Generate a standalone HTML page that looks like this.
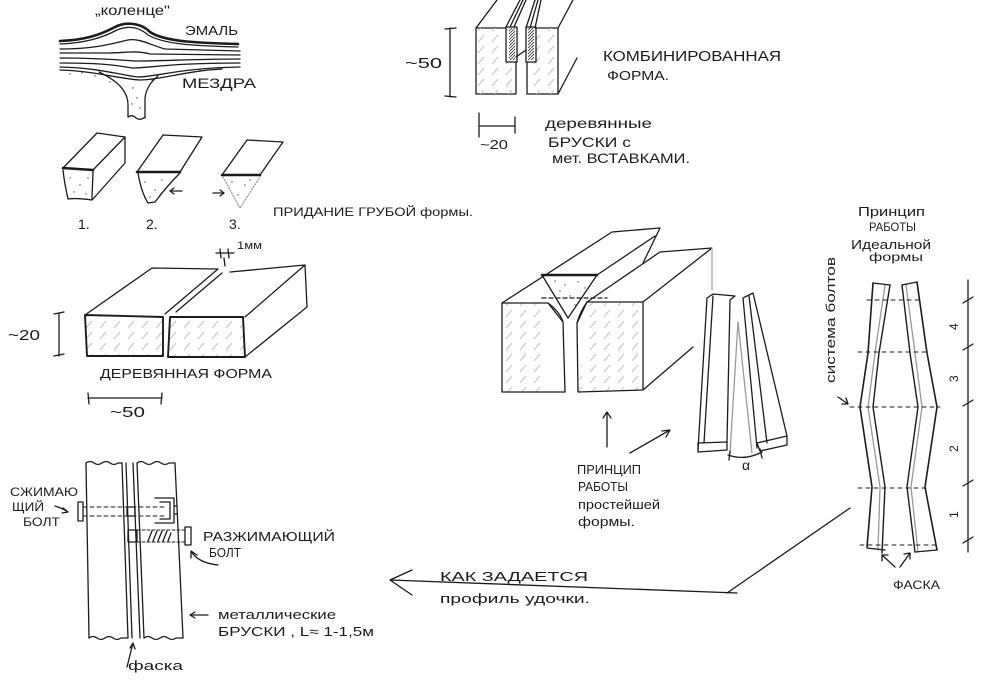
<!DOCTYPE html>
<html><head><meta charset="utf-8">
<style>
html,body{margin:0;padding:0;background:#fff;}
svg{display:block;}
text{font-family:"Liberation Sans","DejaVu Sans",sans-serif;fill:#1c1c1c;}
</style></head>
<body>
<svg width="990" height="685" viewBox="0 0 990 685" xmlns="http://www.w3.org/2000/svg">
<defs>
<pattern id="h" width="14" height="11" patternUnits="userSpaceOnUse">
<line x1="2" y1="9" x2="8" y2="2" stroke="#c4c4c4" stroke-width="1"/>
</pattern>
<pattern id="hd" width="3" height="3" patternUnits="userSpaceOnUse">
<line x1="0" y1="3" x2="3" y2="0" stroke="#333" stroke-width="0.9"/>
</pattern>
</defs>
<rect width="990" height="685" fill="#fff"/>
<g fill="none" stroke="#1c1c1c" stroke-width="1.3" stroke-linecap="round" stroke-linejoin="round">

<!-- ENAMEL / MEZDRA -->
<path d="M60,41 C85,40 100,35 115,27 C125,22 140,22 150,32 C165,42 200,43 238,44" stroke-width="2.6"/>
<path d="M60,44 C85,43 102,38 117,30 C127,26 138,26 148,35 C165,45 200,46 238,47"/>
<path d="M60,49 C95,49 110,44 128,40 C140,38 150,45 165,49 L240,51"/>
<path d="M60,53 L108,53 C124,53 135,50 150,54 L240,55"/>
<path d="M60,58 C100,58 120,60 135,61 C160,61 200,59 240,59"/>
<path d="M60,63 C100,63 115,65 132,68 C150,68 170,63 240,63"/>
<path d="M60,67 C100,68 120,75 138,77 C155,77 180,68 240,67"/>
<path d="M60,70 C95,71 120,79 140,80 C160,80 185,71 222,69"/>
<path d="M99,72 C116,80 128,90 128,105 L128,117"/>
<path d="M158,76 C149,83 145,92 145,100 L145,118"/>
<path d="M128,117 Q132,114 136,118 Q140,121 145,117"/>
<g fill="#444" stroke="none">
<circle cx="70" cy="74" r="0.7"/><circle cx="82" cy="73" r="0.7"/><circle cx="95" cy="76" r="0.7"/><circle cx="110" cy="82" r="0.7"/><circle cx="133" cy="88" r="0.7"/><circle cx="137" cy="98" r="0.7"/><circle cx="140" cy="108" r="0.7"/><circle cx="152" cy="80" r="0.7"/><circle cx="175" cy="72" r="0.7"/><circle cx="200" cy="70" r="0.7"/><circle cx="132" cy="104" r="0.7"/>
</g>

<!-- PRISMS -->
<path d="M63,168 L93,170 L125,137 L97,133 Z"/>
<path d="M63,168 L93,170" stroke-width="2.6"/>
<path d="M63,170 C64,180 66,190 68,199 C75,198 85,199 92,200 C92,190 93,180 93,170"/>
<path d="M125,137 L125,163 L93,199"/>
<path d="M137,172 L180,172 L202,137 L163,135 Z"/>
<path d="M137,172 L180,172" stroke-width="2.6"/>
<path d="M138,173 C140,185 143,195 148,203 L155,202 C164,190 172,181 180,173"/>
<path d="M182,191 L170,191 M174,188 L170,191 L174,194"/>
<path d="M222,175 L260,175 L283,142 L247,140 Z"/>
<path d="M222,175 L260,175" stroke-width="2.6"/>
<path d="M223,177 L240,208 L260,177" stroke="#999" stroke-dasharray="1 2"/>
<path d="M213,193 L224,193 M220,190 L224,193 L220,196"/>
<g fill="#555" stroke="none">
<circle cx="70" cy="178" r="0.7"/><circle cx="80" cy="185" r="0.7"/><circle cx="88" cy="178" r="0.7"/><circle cx="74" cy="192" r="0.7"/><circle cx="86" cy="194" r="0.7"/>
<circle cx="145" cy="182" r="0.7"/><circle cx="155" cy="190" r="0.7"/><circle cx="162" cy="180" r="0.7"/><circle cx="150" cy="197" r="0.7"/>
<circle cx="232" cy="182" r="0.7"/><circle cx="245" cy="185" r="0.7"/><circle cx="238" cy="195" r="0.7"/><circle cx="250" cy="180" r="0.7"/>
</g>

<!-- WOODEN FORM -->
<path d="M85,315 L163,317 L163,356 L87,356 Z" fill="url(#h)" stroke-width="1.9"/>
<path d="M170,317 L243,317 L245,357 L168,357 Z" fill="url(#h)" stroke-width="1.9"/>
<path d="M85,315 L152,268 L218,269 L165,314"/>
<path d="M222,273 L176,312"/>
<path d="M230,272 L305,265 L245,317"/>
<path d="M305,265 L307,307 L245,357"/>
<path d="M216,253 L234,253 M220,249 L221,258 M228,249 L229,258 M224,258 L225,266"/>
<path d="M59,313 L59,356 M54,314 L64,312 M54,356 L64,354"/>
<path d="M88,398 L162,398 M88,393 L89,404 M162,393 L161,404"/>

<!-- RAIL FORM -->
<path d="M86,463 Q90,460 94,463 Q98,466 102,463 Q106,460 110,463 Q114,466 118,463 L122,463"/>
<path d="M137,463 Q141,460 145,463 Q149,466 153,463 Q157,460 161,463 Q165,466 169,463 L175,463"/>
<path d="M89,638 Q93,635 97,638 Q101,641 105,638 Q109,635 113,638 Q117,641 121,638 L128,638"/>
<path d="M144,638 Q148,635 152,638 Q156,641 160,638 Q164,635 168,638 Q172,641 176,638 L183,638"/>
<path d="M86,463 L89,638 M122,463 L128,638 M126,463 L132,638 M133,463 L140,638 M137,463 L144,638 M175,463 L183,638"/>
<rect x="78" y="502" width="5" height="19"/>
<path d="M83,507 L165,507 M83,516 L165,516" stroke-dasharray="4 3" stroke-width="0.9"/>
<rect x="127" y="507" width="8" height="9"/>
<path d="M155,498 L174,498 L174,523 L155,523 M160,502 L170,502 L170,519 L160,519 M174,506 L177,506 M174,514 L177,514"/>
<rect x="185" y="527" width="6" height="18"/>
<path d="M137,530 L185,530 M137,542 L185,542" stroke-dasharray="3 2" stroke-width="0.9"/>
<path d="M148,541 L152,531 M153,541 L157,531 M158,541 L162,531 M163,541 L167,531 M168,541 L171,533"/>
<rect x="128" y="530" width="9" height="12"/>
<path d="M55,506 Q62,508 68,512 M63,508 L68,512 L62,513"/>
<path d="M218,565 Q198,563 191,551 M191,551 L191,558 M191,551 L197,555"/>
<path d="M208,615 L190,615 M195,612 L190,615 L195,618"/>
<path d="M127,667 L133,643 M130,648 L133,643 L135,649"/>

<!-- COMBINED FORM -->
<path d="M476,28 L476,94 L516,94 L516,28 L476,28" />
<path d="M527,28 L527,94 L558,94 L558,28 L527,28"/>
<rect x="476" y="28" width="40" height="66" fill="url(#h)" stroke="none"/>
<rect x="527" y="28" width="31" height="66" fill="url(#h)" stroke="none"/>
<rect x="506" y="27" width="11" height="35" fill="#fff"/>
<rect x="509" y="28" width="6" height="32" fill="url(#hd)" stroke="none"/>
<rect x="526" y="27" width="10" height="35" fill="#fff"/>
<rect x="528" y="28" width="6" height="32" fill="url(#hd)" stroke="none"/>
<path d="M516,57 L526,50"/>
<path d="M476,28 L497,0 M506,27 L520,0 M510,27 L523,0 M514,27 L526,0 M526,28 L535,0 M530,28 L538,0 M535,28 L541,0 M558,28 L573,0"/>
<path d="M558,94 L577,58"/>
<path d="M450,28 L450,97 M445,29 L456,28 M445,96 L456,97"/>
<path d="M479,126 L515,126 M479,113 L479,137 M515,117 L515,133"/>

<!-- SIMPLE FORM -->
<path d="M502,303 L548,303 L548,392 L502,392 Z" fill="url(#h)" stroke="none"/>
<path d="M587,303 L643,303 L643,390 L578,392 Z" fill="url(#h)" stroke="none"/>
<path d="M502,303 L548,303 Q560,312 563,322 L565,392 L502,392 Z"/>
<path d="M587,302 Q580,312 577,323 L578,392 L643,390 L643,302 L587,302"/>
<path d="M542,275 L597,275 L568,318 Z" fill="#fff"/>
<path d="M542,275 L597,275" stroke-width="2.6"/>
<path d="M548,303 L563,322 M587,302 L577,323" />
<path d="M542,298 L607,298" stroke-dasharray="4 3"/>
<path d="M502,303 L612,232 L660,228 L643,263"/>
<path d="M597,275 L655,236"/>
<path d="M587,302 L660,252 L712,248 L643,302"/>
<path d="M712,248 L712,290" stroke="#aaa"/>
<path d="M693,347 L643,390"/>
<g fill="#555" stroke="none">
<circle cx="555" cy="281" r="0.7"/><circle cx="565" cy="285" r="0.7"/><circle cx="578" cy="282" r="0.7"/><circle cx="585" cy="288" r="0.7"/><circle cx="570" cy="296" r="0.7"/><circle cx="575" cy="305" r="0.7"/><circle cx="560" cy="291" r="0.7"/>
</g>

<!-- BARS alpha -->
<path d="M707,298 L698,450 M713,296 L704,443 M730,300 L727,442 M707,298 L713,294 L735,296 L730,300"/>
<path d="M698,443 L727,442 L727,450 L698,452 Z"/>
<path d="M743,298 L757,448 M749,296 L767,443 M753,293 L787,436 M743,298 L753,293"/>
<path d="M757,443 L787,436 L787,445 L760,451 Z"/>
<path d="M738,322 L730,453 M738,322 L752,453" stroke="#999"/>
<path d="M728,455 Q745,461 762,452 M730,451 L729,460 M760,449 L762,458"/>
<path d="M607,447 L607,412 M603,418 L607,412 L611,418"/>
<path d="M630,453 L670,430 M662,431 L670,430 L666,437"/>

<!-- BIG ARROW -->
<path d="M850,508 L727,593"/>
<path d="M737,593 L390,580 M412,570 L390,580 L412,595"/>

<!-- IDEAL FORM -->
<path d="M873,283 L868,353 L860,407 L872,487 L867,547" stroke-width="1.6"/>
<path d="M890,285 L879,353 L873,407 L885,487 L882,553" stroke-width="1.4"/>
<path d="M885,285 L875,353 L868,407 L880,487 L878,550" stroke="#999"/>
<path d="M873,283 L890,285 M867,548 L885,550"/>
<path d="M902,285 L910,353 L918,407 L907,487 L915,552" stroke-width="1.4"/>
<path d="M906,285 L915,353 L922,407 L911,487 L918,552" stroke="#999"/>
<path d="M917,282 L927,353 L937,407 L925,487 L937,550" stroke-width="1.6"/>
<path d="M902,285 L917,282 M915,552 L937,550"/>
<path d="M867,300 L923,300 M858,352 L927,352 M850,407 L940,407 M858,488 L930,488 M860,545 L940,545" stroke-dasharray="4 4" stroke-width="0.9"/>
<path d="M968,280 L968,552"/>
<path d="M963,303 L973,297 M963,350 L973,344 M963,406 L973,400 M963,486 L973,480 M963,543 L973,537"/>
<path d="M838,397 L848,404 M842,404 L848,404 L846,398"/>
<path d="M895,567 L882,555 M882,561 L882,555 L888,555 M900,567 L910,553 M904,554 L910,553 L910,559"/>
</g>

<!-- TEXT -->
<g>
<text x="95" y="15" font-size="14" textLength="75" lengthAdjust="spacingAndGlyphs">„коленце"</text>
<text x="185" y="35" font-size="13" textLength="53" lengthAdjust="spacingAndGlyphs">ЭМАЛЬ</text>
<text x="182" y="88" font-size="14" textLength="74" lengthAdjust="spacingAndGlyphs">МЕЗДРА</text>
<text x="78" y="229" font-size="14">1.</text>
<text x="146" y="229" font-size="14">2.</text>
<text x="229" y="229" font-size="14">3.</text>
<text x="273" y="216" font-size="12" textLength="200" lengthAdjust="spacingAndGlyphs">ПРИДАНИЕ ГРУБОЙ формы.</text>
<text x="603" y="61" font-size="15" textLength="178" lengthAdjust="spacingAndGlyphs">КОМБИНИРОВАННАЯ</text>
<text x="607" y="80" font-size="13" textLength="62" lengthAdjust="spacingAndGlyphs">ФОРМА.</text>
<text x="405" y="68" font-size="15" textLength="37" lengthAdjust="spacingAndGlyphs">~50</text>
<text x="480" y="149" font-size="13" textLength="28" lengthAdjust="spacingAndGlyphs">~20</text>
<text x="545" y="128" font-size="14" textLength="107" lengthAdjust="spacingAndGlyphs">деревянные</text>
<text x="548" y="147" font-size="14" textLength="83" lengthAdjust="spacingAndGlyphs">БРУСКИ с</text>
<text x="552" y="163" font-size="14" textLength="138" lengthAdjust="spacingAndGlyphs">мет. ВСТАВКАМИ.</text>
<text x="237" y="249" font-size="11" textLength="25" lengthAdjust="spacingAndGlyphs">1мм</text>
<text x="8" y="340" font-size="15" textLength="32" lengthAdjust="spacingAndGlyphs">~20</text>
<text x="100" y="378" font-size="13" textLength="172" lengthAdjust="spacingAndGlyphs">ДЕРЕВЯННАЯ ФОРМА</text>
<text x="110" y="417" font-size="15" textLength="35" lengthAdjust="spacingAndGlyphs">~50</text>
<text x="10" y="496" font-size="12" textLength="68" lengthAdjust="spacingAndGlyphs">СЖИМАЮ</text>
<text x="12" y="511" font-size="12" textLength="32" lengthAdjust="spacingAndGlyphs">ЩИЙ</text>
<text x="23" y="526" font-size="12" textLength="37" lengthAdjust="spacingAndGlyphs">БОЛТ</text>
<text x="203" y="541" font-size="13" textLength="132" lengthAdjust="spacingAndGlyphs">РАЗЖИМАЮЩИЙ</text>
<text x="209" y="557" font-size="13" textLength="32" lengthAdjust="spacingAndGlyphs">БОЛТ</text>
<text x="218" y="619" font-size="13" textLength="118" lengthAdjust="spacingAndGlyphs">металлические</text>
<text x="218" y="636" font-size="13" textLength="156" lengthAdjust="spacingAndGlyphs">БРУСКИ , L≈ 1-1,5м</text>
<text x="128" y="670" font-size="13" textLength="55" lengthAdjust="spacingAndGlyphs">фаска</text>
<text x="577" y="474" font-size="13" textLength="64" lengthAdjust="spacingAndGlyphs">ПРИНЦИП</text>
<text x="578" y="491" font-size="13" textLength="50" lengthAdjust="spacingAndGlyphs">РАБОТЫ</text>
<text x="578" y="509" font-size="13" textLength="82" lengthAdjust="spacingAndGlyphs">простейшей</text>
<text x="578" y="526" font-size="13" textLength="57" lengthAdjust="spacingAndGlyphs">формы.</text>
<text x="742" y="470" font-size="14">α</text>
<text x="440" y="581" font-size="13" textLength="148" lengthAdjust="spacingAndGlyphs">КАК ЗАДАЕТСЯ</text>
<text x="440" y="603" font-size="13" textLength="150" lengthAdjust="spacingAndGlyphs">профиль удочки.</text>
<text x="858" y="216" font-size="13" textLength="67" lengthAdjust="spacingAndGlyphs">Принцип</text>
<text x="869" y="231" font-size="12" textLength="47" lengthAdjust="spacingAndGlyphs">РАБОТЫ</text>
<text x="851" y="249" font-size="13" textLength="80" lengthAdjust="spacingAndGlyphs">Идеальной</text>
<text x="869" y="261" font-size="12" textLength="54" lengthAdjust="spacingAndGlyphs">формы</text>
<text transform="translate(835,383) rotate(-90)" font-size="13" textLength="126" lengthAdjust="spacingAndGlyphs">система болтов</text>
<text transform="translate(958,330) rotate(-90)" font-size="12">4</text>
<text transform="translate(958,382) rotate(-90)" font-size="12">3</text>
<text transform="translate(958,452) rotate(-90)" font-size="12">2</text>
<text transform="translate(958,518) rotate(-90)" font-size="12">1</text>
<text x="893" y="589" font-size="12" textLength="47" lengthAdjust="spacingAndGlyphs">ФАСКА</text>
</g>
</svg>
</body></html>
